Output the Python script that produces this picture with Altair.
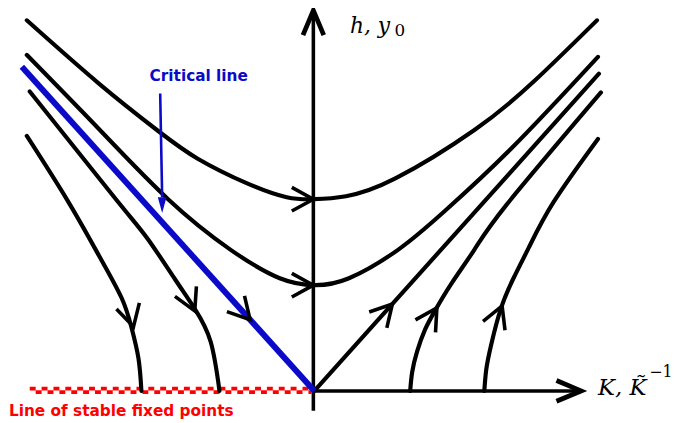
import altair as alt
import pandas as pd

# ---- data (x: K offset from fixed point, y: h) ----
c1_x = [-291, -218, -158, -118, -68, -28, 0, 32, 82, 162, 222, 286]
c1_y = [375, 311, 263, 235, 210, 196, 194, 197, 215, 264, 313, 375]
c2_x = [-291, -218, -148, -85, -35, 0, 35, 85, 132, 200, 287]
c2_y = [340, 265, 194, 143, 114, 107, 114, 143, 182, 246, 338]
c4_x = [0, 288]
c4_y = [0, 321]
c5_x = [-288, -200, -168, -141, -121, -105, -96]
c5_y = [303, 193, 153, 113, 83, 50, 0]
c6_x = [-291, -250, -218, -195, -185, -178, -175]
c6_y = [258, 193, 137, 94, 64, 33, 0]
c8_x = [97, 99, 104, 112, 122, 139, 162, 195, 290]
c8_y = [0, 19, 40, 62, 81, 109, 143, 189, 302]
c9_x = [172, 174, 179, 189, 202, 217, 242, 287]
c9_y = [0, 22, 47, 84, 115, 145, 191, 255]
crit_x = [-296, 0]
crit_y = [328, 0]

# flow arrowheads: tip position and direction (degrees, clockwise on screen)
arrow_x = [-1, -1, -183, -121, -65, 79, 124, 190]
arrow_y = [194, 107, 65, 81, 72, 88, 84, 86]
arrow_ang = [0, 0, 75, 65, 48, 312, 302, 292]

# axes
vaxis_x = [-1]
vaxis_y = [-20]
vaxis_y2 = [383]
haxis_x = [0]
haxis_x2 = [268]
haxis_y = [0]
axis_tip_x = [-1, 270]
axis_tip_y = [385, 0]
axis_tip_ang = [270, 0]

# line of stable fixed points
fixed_x = [-288]
fixed_x2 = [-3]

# pointer to critical line
ptr_x = [-156]
ptr_y = [301]
ptr_x2 = [-154]
ptr_y2 = [196]
ptr_tip_x = [-154]
ptr_tip_y = [188]

XD = [-310, 369]
YD = [-30, 385]

def X(f="x"):
    return alt.X(f"{f}:Q", scale=alt.Scale(domain=XD, nice=False, zero=False), axis=None)

def Y(f="y"):
    return alt.Y(f"{f}:Q", scale=alt.Scale(domain=YD, nice=False, zero=False), axis=None)

rows = []
for name, xs, ys in [("c1", c1_x, c1_y), ("c2", c2_x, c2_y), ("c4", c4_x, c4_y),
                     ("c5", c5_x, c5_y), ("c6", c6_x, c6_y), ("c8", c8_x, c8_y),
                     ("c9", c9_x, c9_y)]:
    for i, (a, b) in enumerate(zip(xs, ys)):
        rows.append({"curve": name, "x": a, "y": b, "o": i})
curves_df = pd.DataFrame(rows)

curves = alt.Chart(curves_df).mark_line(
    interpolate="natural", color="black", strokeWidth=4.2, strokeCap="round", clip=False
).encode(x=X(), y=Y(), detail="curve:N", order="o:Q")

crit = alt.Chart(pd.DataFrame({"x": crit_x, "y": crit_y})).mark_line(
    color="#0a0ac8", strokeWidth=6, strokeCap="butt"
).encode(x=X(), y=Y())

CHEVRON = "M -1 -0.55 L 0 0 L -1 0.55"
arrows = alt.Chart(pd.DataFrame({"x": arrow_x, "y": arrow_y, "a": arrow_ang})).mark_point(
    shape=CHEVRON, filled=False, size=1900, strokeWidth=3.6, color="black", opacity=1,
    strokeJoin="miter"
).encode(x=X(), y=Y(), angle=alt.Angle("a:Q", scale=None))

vaxis = alt.Chart(pd.DataFrame({"x": vaxis_x, "y": vaxis_y, "y2": vaxis_y2})).mark_rule(
    color="black", strokeWidth=3.6
).encode(x=X(), y=Y(), y2="y2:Q")

haxis = alt.Chart(pd.DataFrame({"x": haxis_x, "x2": haxis_x2, "y": haxis_y})).mark_rule(
    color="black", strokeWidth=3.6
).encode(x=X(), x2="x2:Q", y=Y())

axis_tips = alt.Chart(pd.DataFrame({"x": axis_tip_x, "y": axis_tip_y, "a": axis_tip_ang})).mark_point(
    shape="M -1 -0.42 L 0 0 L -1 0.42", filled=False, size=2500, strokeWidth=4.8,
    color="black", opacity=1, strokeJoin="miter"
).encode(x=X(), y=Y(), angle=alt.Angle("a:Q", scale=None))

fixed_top = alt.Chart(pd.DataFrame({"x": fixed_x, "x2": fixed_x2, "y": [2.2]})).mark_rule(
    color="#ff0000", strokeWidth=3.8, strokeDash=[6, 6]
).encode(x=X(), x2="x2:Q", y=Y())
fixed_bot = alt.Chart(pd.DataFrame({"x": fixed_x, "x2": fixed_x2, "y": [-1.2]})).mark_rule(
    color="#ff0000", strokeWidth=3.8, strokeDash=[6, 6], strokeDashOffset=6
).encode(x=X(), x2="x2:Q", y=Y())

ptr = alt.Chart(pd.DataFrame({"x": ptr_x, "y": ptr_y, "x2": ptr_x2, "y2": ptr_y2})).mark_rule(
    color="#0a0ac8", strokeWidth=2.6
).encode(x=X(), y=Y(), x2="x2:Q", y2="y2:Q")
ptr_tip = alt.Chart(pd.DataFrame({"x": ptr_tip_x, "y": ptr_tip_y})).mark_point(
    shape="M -0.55 -1 L 0.55 -1 L 0 1 Z", filled=True, size=256, color="#0a0ac8", opacity=1
).encode(x=X(), y=Y())

# ---- text ----
def txt(label, x, y, font, size, color, italic=False, bold=False, baseline="alphabetic", align="left"):
    kw = dict(text=label, font=font, fontSize=size, color=color, baseline=baseline, align=align)
    if italic:
        kw["fontStyle"] = "italic"
    if bold:
        kw["fontWeight"] = "bold"
    return alt.Chart(pd.DataFrame({"x": [x], "y": [y]})).mark_text(**kw).encode(x=X(), y=Y())

t_crit = txt("Critical line", -117, 319, "DejaVu Sans", 15.5, "#0a0ac8", bold=True, baseline="middle", align="center")
t_fixed = txt("Line of stable fixed points", -309, -25, "DejaVu Sans", 15.5, "#ff0000", bold=True)
t_h = txt("h, y", 36, 362, "DejaVu Serif", 22, "black", italic=True)
t_h0 = txt("0", 81, 359, "DejaVu Serif", 17, "black")
t_k = txt("K, K\u0303", 287, -4, "DejaVu Serif", 23, "black", italic=True)
t_k1 = txt("\u22121", 339, 14, "DejaVu Serif", 16, "black")

chart = alt.layer(
    fixed_top, fixed_bot, vaxis, haxis, axis_tips, curves, crit, arrows, ptr, ptr_tip,
    t_crit, t_fixed, t_h, t_h0, t_k, t_k1
).properties(
    width=679, height=415, padding=0,
    autosize=alt.AutoSizeParams(type="none"),
    background="white"
).configure_view(stroke=None)

chart.save("out.html", embed_options={"renderer": "svg", "actions": False})
